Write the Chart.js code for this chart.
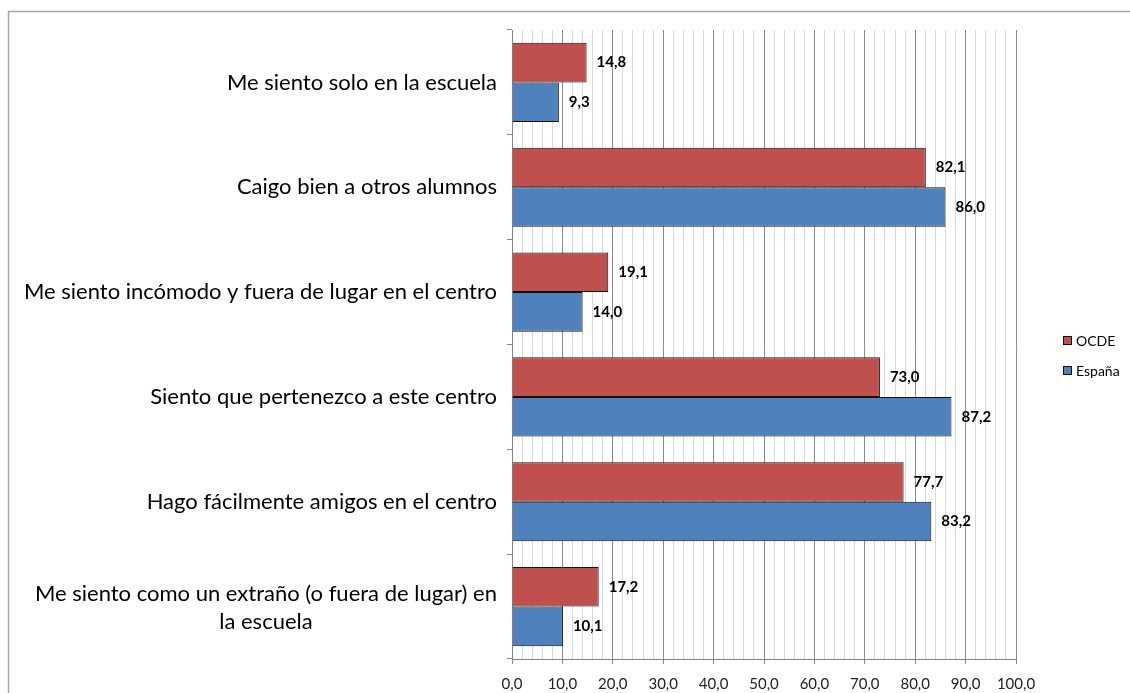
<!DOCTYPE html>
<html>
<head>
<meta charset="utf-8">
<script src="https://cdn.jsdelivr.net/npm/chart.js@4"></script>
<style>
  html, body { margin: 0; padding: 0; background: #fff; }
</style>
</head>
<body>
<canvas id="chart" width="1130" height="693"></canvas>
<script>
// Datos
const categorias = [
  ["Me siento solo en la escuela"],
  ["Caigo bien a otros alumnos"],
  ["Me siento incómodo y fuera de lugar en el centro"],
  ["Siento que pertenezco a este centro"],
  ["Hago fácilmente amigos en el centro"],
  ["Me siento como un extraño (o fuera de lugar) en", "la escuela"]
];
const valoresOCDE = [14.8, 82.1, 19.1, 73.0, 77.7, 17.2];
const valoresEspana = [9.3, 86.0, 14.0, 87.2, 83.2, 10.1];
const marcasX = [0, 10, 20, 30, 40, 50, 60, 70, 80, 90, 100];

const fuente = 'Lato, "Open Sans", sans-serif';
Chart.defaults.font.family = fuente;

const formato = (v) => v.toFixed(1).replace(".", ",");

// Marco exterior
const marco = {
  id: "marco",
  beforeDraw(chart) {
    const ctx = chart.ctx;
    ctx.save();
    ctx.strokeStyle = "#a6a6a6";
    ctx.lineWidth = 1.5;
    ctx.strokeRect(8.5, 11.5, 1300, 1000);
    ctx.restore();
  }
};

// Etiquetas de categoría (el último texto va en dos líneas centradas)
const etiquetasY = {
  id: "etiquetasY",
  afterDraw(chart) {
    const ctx = chart.ctx;
    const scale = chart.scales.y;
    const derecha = scale.right - 15;
    ctx.save();
    ctx.font = "22px " + fuente;
    ctx.fillStyle = "#000";
    ctx.textBaseline = "middle";
    categorias.forEach((lineas, i) => {
      const y = scale.getPixelForValue(i);
      if (lineas.length === 1) {
        ctx.textAlign = "right";
        ctx.fillText(lineas[0], derecha, y);
      } else {
        const ancho = Math.max(...lineas.map((l) => ctx.measureText(l).width));
        const cx = derecha - ancho / 2;
        ctx.textAlign = "center";
        lineas.forEach((l, k) => {
          ctx.fillText(l, cx, y + 1 + (k - (lineas.length - 1) / 2) * 28);
        });
      }
    });
    ctx.restore();
  }
};

// Valores al final de cada barra
const valores = {
  id: "valores",
  afterDatasetsDraw(chart) {
    const ctx = chart.ctx;
    ctx.save();
    ctx.font = "bold 15px " + fuente;
    ctx.fillStyle = "#000";
    ctx.textAlign = "left";
    ctx.textBaseline = "middle";
    chart.data.datasets.forEach((ds, i) => {
      chart.getDatasetMeta(i).data.forEach((barra, j) => {
        ctx.fillText(formato(ds.data[j]), barra.x + 10, barra.y);
      });
    });
    ctx.restore();
  }
};

// Leyenda a la derecha
const leyenda = {
  id: "leyenda",
  afterDraw(chart) {
    const ctx = chart.ctx;
    const area = chart.chartArea;
    const x = area.right + 47;
    const y0 = (area.top + area.bottom) / 2 - 4;
    ctx.save();
    ctx.font = "14px " + fuente;
    ctx.textAlign = "left";
    ctx.textBaseline = "middle";
    chart.data.datasets.forEach((ds, i) => {
      const y = y0 + i * 30;
      ctx.fillStyle = ds.backgroundColor;
      ctx.fillRect(x, y - 4.5, 9, 9);
      ctx.strokeStyle = "#111";
      ctx.lineWidth = 1;
      ctx.strokeRect(x + 0.5, y - 4, 8, 8);
      ctx.fillStyle = "#000";
      ctx.fillText(ds.label, x + 13, y + 1);
    });
    ctx.restore();
  }
};

const chart = new Chart(document.querySelector("#chart"), {
  type: "bar",
  data: {
    labels: categorias,
    datasets: [
      {
        label: "OCDE",
        data: valoresOCDE,
        backgroundColor: "#C0504D",
        borderColor: "#111",
        borderWidth: 1,
        categoryPercentage: 0.755,
        barPercentage: 1
      },
      {
        label: "España",
        data: valoresEspana,
        backgroundColor: "#4F81BD",
        borderColor: "#111",
        borderWidth: 1,
        categoryPercentage: 0.755,
        barPercentage: 1
      }
    ]
  },
  options: {
    indexAxis: "y",
    responsive: false,
    devicePixelRatio: 1,
    animation: false,
    layout: { padding: { top: 30, right: 114, bottom: 0, left: 0 } },
    plugins: {
      legend: { display: false },
      tooltip: { enabled: false }
    },
    scales: {
      x: {
        min: 0,
        max: 100,
        afterFit: (scale) => { scale.height = 34; },
        ticks: {
          stepSize: 2,
          autoSkip: false,
          maxRotation: 0,
          padding: 11,
          color: "#222",
          font: { size: 15 },
          callback: (v) => (marcasX.includes(Math.round(v)) ? formato(v) : "")
        },
        grid: {
          color: (c) => (c.tick && Math.round(c.tick.value) % 10 === 0 ? "#8c8c8c" : "#d9d9d9"),
          tickColor: (c) => (c.tick && Math.round(c.tick.value) % 10 === 0 ? "#868686" : "rgba(0,0,0,0)"),
          tickLength: 5
        },
        border: { color: "#868686" }
      },
      y: {
        afterFit: (scale) => { scale.width = 512; },
        ticks: { display: false },
        grid: {
          drawOnChartArea: false,
          drawTicks: true,
          tickLength: 5,
          offset: true,
          color: "#868686"
        },
        border: { color: "#868686" }
      }
    }
  },
  plugins: [marco, etiquetasY, valores, leyenda]
});
</script>
</body>
</html>
